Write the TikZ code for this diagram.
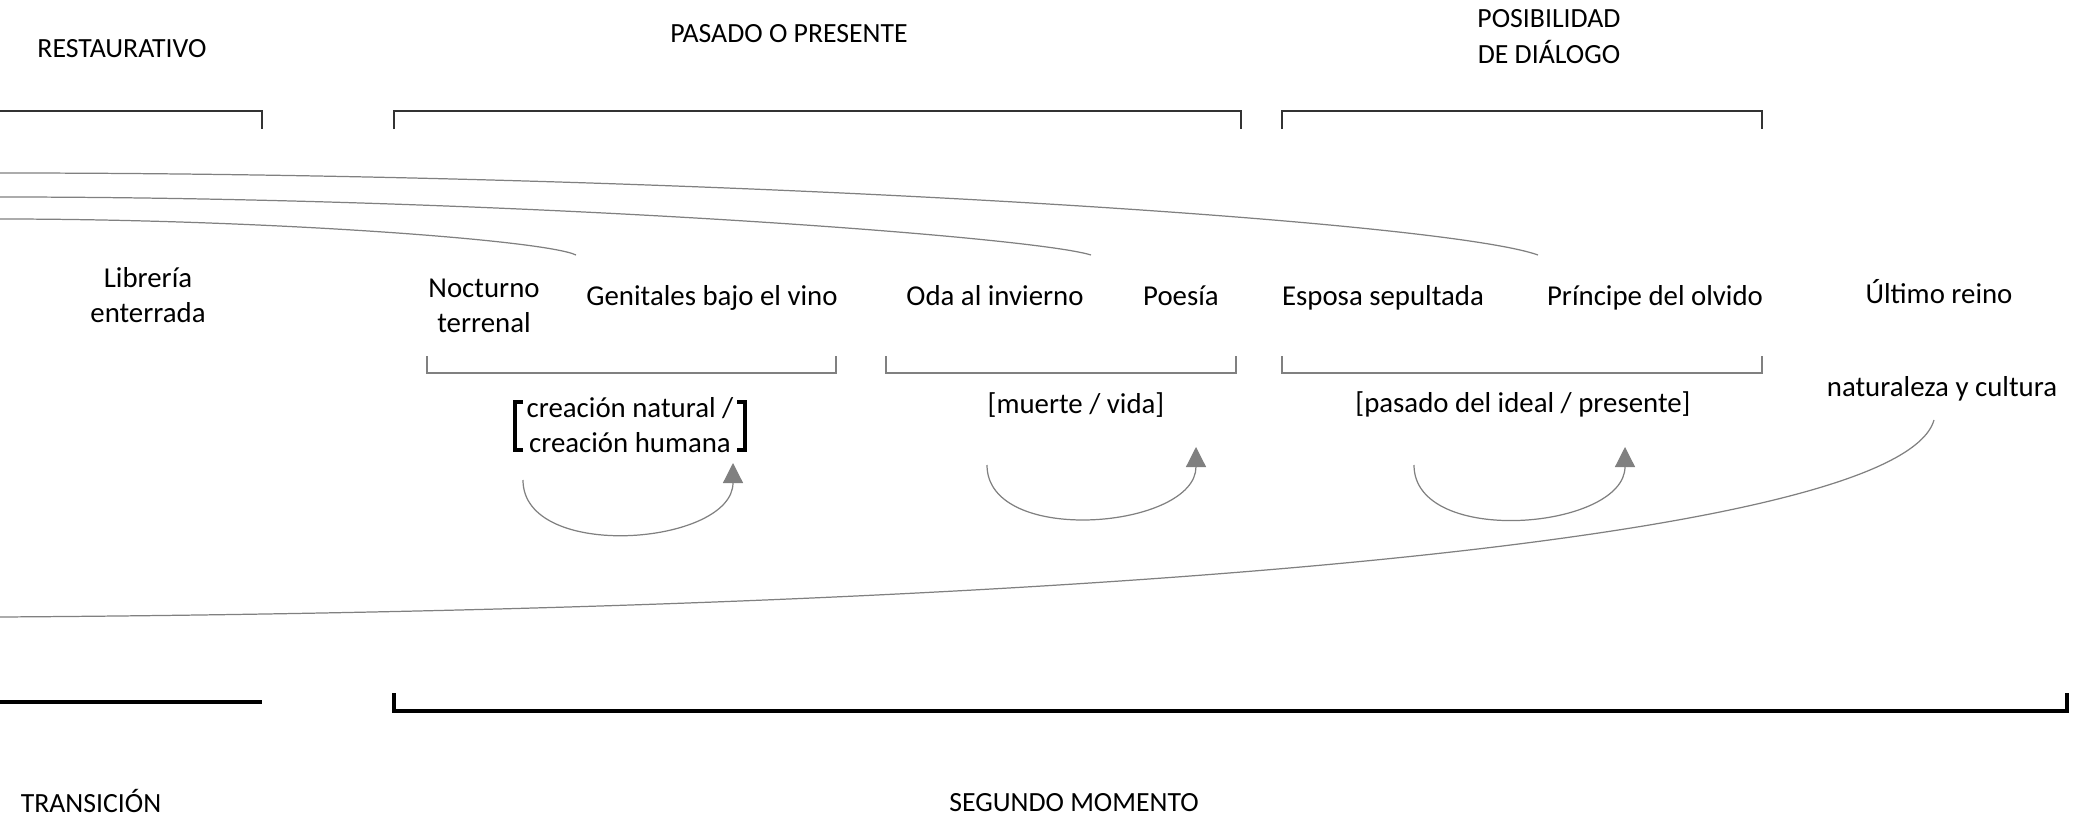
\documentclass[tikz,border=0pt]{standalone}
\usepackage{fontspec}
\setmainfont{Carlito}
\usepackage{tikz}
\usetikzlibrary{arrows.meta}

\begin{document}
\begin{tikzpicture}[x=0.1mm, y=-0.1mm,
		every node/.style={align=center, inner sep=0pt, font=\fontsize{8.2}{10}\selectfont},
		titulo/.style={font=\fontsize{7.9}{10.2}\selectfont},
		hilo/.style={draw=gray, line width=0.35pt},
		giro/.style={gray, line width=0.35pt, -{Triangle[length=2mm,width=2mm,fill=gray]}},
		marco/.style={draw=black!80, line width=0.45pt},
		llave/.style={draw=gray, line width=0.6pt},
		corchete/.style={draw=black, line width=1pt},
		base/.style={draw=black, line width=1pt}]
	\useasboundingbox (0,0) rectangle (2084,819);

	% encabezados
	\node[titulo, anchor=base] (rest) at (122,57) {RESTAURATIVO};
	\node[titulo, anchor=base] (pas) at (789,43) {PASADO O PRESENTE};
	\node[titulo] (pos) at (1549,37) {POSIBILIDAD\\DE DIÁLOGO};
	\node[titulo, anchor=base] (tra) at (91,812) {TRANSICIÓN};
	\node[titulo, anchor=base] (seg) at (1074,811) {SEGUNDO MOMENTO};

	% obras
	\node (lib) at (148,295) {Librería\\enterrada};
	\node (noc) at (484,306) {Nocturno\\terrenal};
	\node[anchor=base] (gen) at (712,305) {Genitales bajo el vino};
	\node[anchor=base] (oda) at (995,305) {Oda al invierno};
	\node[anchor=base] (poe) at (1181,305) {Poesía};
	\node[anchor=base] (esp) at (1383,305) {Esposa sepultada};
	\node[anchor=base] (pri) at (1655,305) {Príncipe del olvido};
	\node[anchor=base] (ult) at (1939,303) {Último reino};
	\node[anchor=base] (nat) at (1942,396) {naturaleza y cultura};

	% oposiciones
	\node (cre) at (630,425) {creación natural /\\creación humana};
	\node[anchor=base] (mue) at (1076,413) {[muerte / vida]};
	\node[anchor=base] (pid) at (1523,412) {[pasado del ideal / presente]};

	\draw[corchete] (523,402) -- (515,402) -- (515,450) -- (523,450);
	\draw[corchete] (737,402) -- (745,402) -- (745,450) -- (737,450);

	% llaves
	\draw[marco] (0,111) -- (262,111) -- (262,129);
	\draw[marco] (394,129) -- (394,111) -- (1241,111) -- (1241,129);
	\draw[marco] (1282,129) -- (1282,111) -- (1762,111) -- (1762,129);

	\draw[llave] (427,356) -- (427,373) -- (836,373) -- (836,356);
	\draw[llave] (886,356) -- (886,373) -- (1236,373) -- (1236,356);
	\draw[llave] (1282,356) -- (1282,373) -- (1762,373) -- (1762,356);

	\draw[base] (0,702) -- (262,702);
	\draw[base] (394,693) -- (394,711) -- (2067,711) -- (2067,693);

	% hilos
	\coordinate (a0) at (0,173);
	\coordinate (a1) at (1538,255);
	\coordinate (b0) at (0,197);
	\coordinate (b1) at (1091,255);
	\coordinate (c0) at (0,219);
	\coordinate (c1) at (576,255);
	\coordinate (d0) at (1934,420);
	\coordinate (d1) at (0,617);

	\draw[hilo] (a0) .. controls (700,173) and (1440,220) .. (a1);
	\draw[hilo] (b0) .. controls (500,197) and (1030,236) .. (b1);
	\draw[hilo] (c0) .. controls (260,219) and (545,240) .. (c1);
	\draw[hilo] (d0) .. controls (1900,540) and (1100,610) .. (d1);

	% giros
	\coordinate (g1) at (523,480);
	\coordinate (h1) at (733,463);
	\coordinate (g2) at (987,465);
	\coordinate (h2) at (1196,447);
	\coordinate (g3) at (1414,465);
	\coordinate (h3) at (1625,447);

	\path[giro] (g1) edge[out=-90, in=-90] (h1);
	\path[giro] (g2) edge[out=-90, in=-90] (h2);
	\path[giro] (g3) edge[out=-90, in=-90] (h3);
\end{tikzpicture}
\end{document}
